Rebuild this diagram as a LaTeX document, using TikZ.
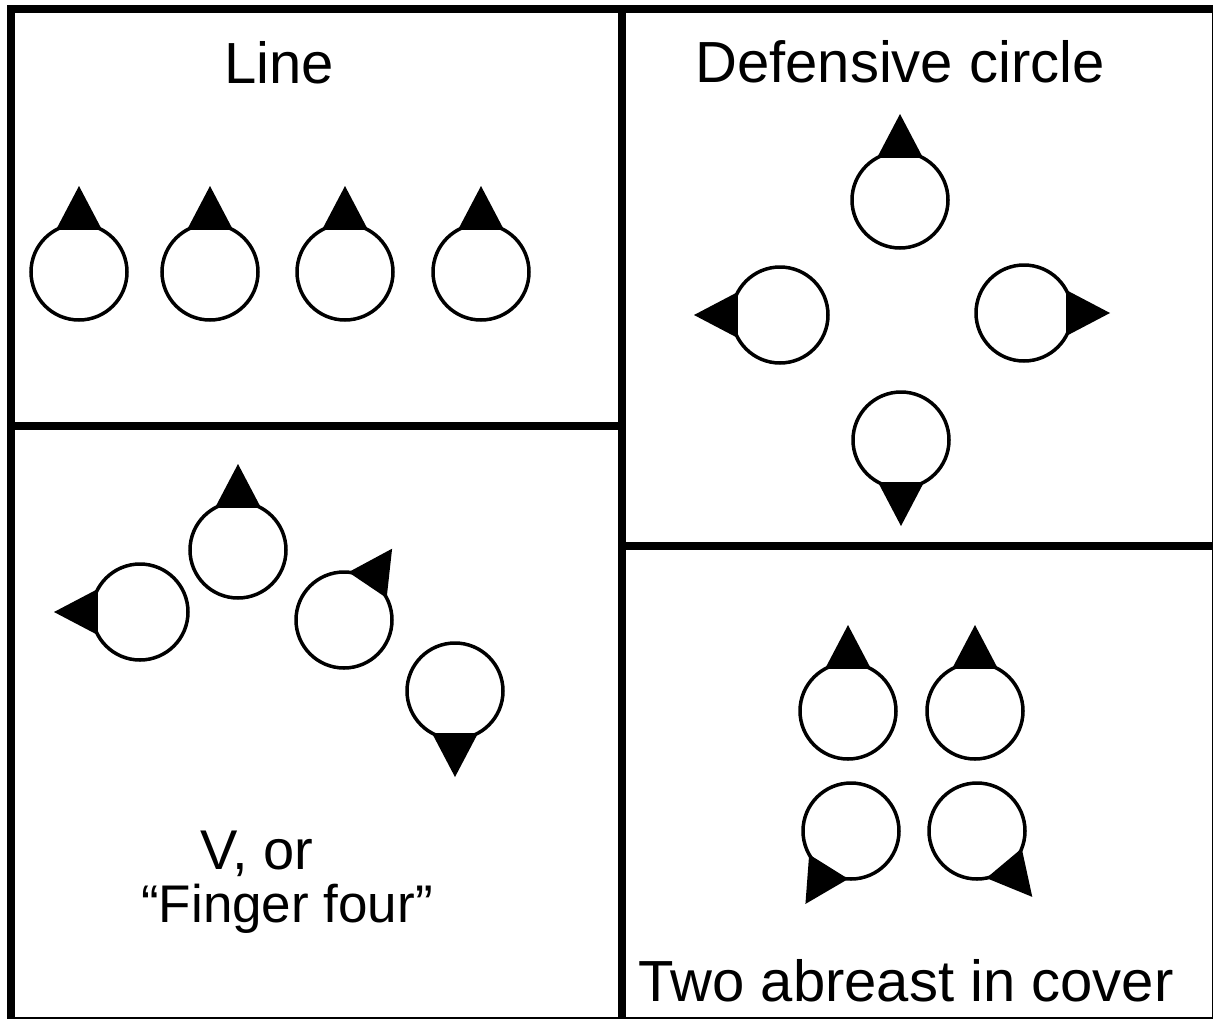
\documentclass[tikz,border=0pt]{standalone}
\usepackage{fontspec}
\setmainfont{Liberation Sans}
\usetikzlibrary{calc}
\tikzset{
  plane/.style={circle,draw,line width=3.5pt,minimum size=96pt,inner sep=0pt,fill=white},
  frame/.style={line width=8pt},
  lbl/.style={anchor=base,inner sep=0pt,font=\fontsize{58}{66}\selectfont},
  vlbl/.style={anchor=base,inner sep=0pt,font=\fontsize{53}{60}\selectfont}
}
\newcommand\fin[2]{\fill ([shift={(#2:86pt)}]#1.center) -- ([shift={(#2+28.7:48pt)}]#1.center) -- ([shift={(#2-28.7:48pt)}]#1.center) -- cycle;}
\begin{document}
\begin{tikzpicture}[x=1pt,y=-1pt]
\useasboundingbox[fill=white] (0,0) rectangle (1213,1018);
% frames
\draw[frame] (11,9) rectangle (1216,1021);
\draw[frame] (621.5,9) -- (621.5,1021);
\draw[frame] (11,426) -- (621.5,426);
\draw[frame] (621.5,545.5) -- (1216,545.5);
% Line
\node[lbl] (tline) at (279,83) {Line};
\foreach \n/\x in {l1/79,l2/210,l3/345,l4/481}{
  \node[plane] (\n) at (\x,272) {};
  \fin{\n}{90}
}
% Defensive circle
\node[lbl] (tdef) at (900,82) {Defensive circle};
\node[plane] (d1) at (900,200) {}; \fin{d1}{90}
\node[plane] (d2) at (780,315) {}; \fin{d2}{180}
\node[plane] (d3) at (1024,313) {}; \fin{d3}{0}
\node[plane] (d4) at (901,440) {}; \fin{d4}{270}
% V
\node[plane] (v1) at (140,612) {}; \fin{v1}{180}
\node[plane] (v2) at (238,550) {}; \fin{v2}{90}
\node[plane] (v3) at (344,620) {}; \fin{v3}{56}
\node[plane] (v4) at (455,691) {}; \fin{v4}{270}
\node[lbl,font=\fontsize{56}{60}\selectfont] (tv1) at (257,869) {V, or};
\node[vlbl] (tv2) at (287,922) {“Finger four”};
% Two abreast
\node[plane] (a1) at (848,711) {}; \fin{a1}{90}
\node[plane] (a2) at (975,711) {}; \fin{a2}{90}
\node[plane] (a3) at (851,831) {}; \fin{a3}{238}
\node[plane] (a4) at (977,831) {}; \fin{a4}{-50}
\node[lbl] (tab) at (906,1001) {Two abreast in cover};
\end{tikzpicture}
\end{document}
